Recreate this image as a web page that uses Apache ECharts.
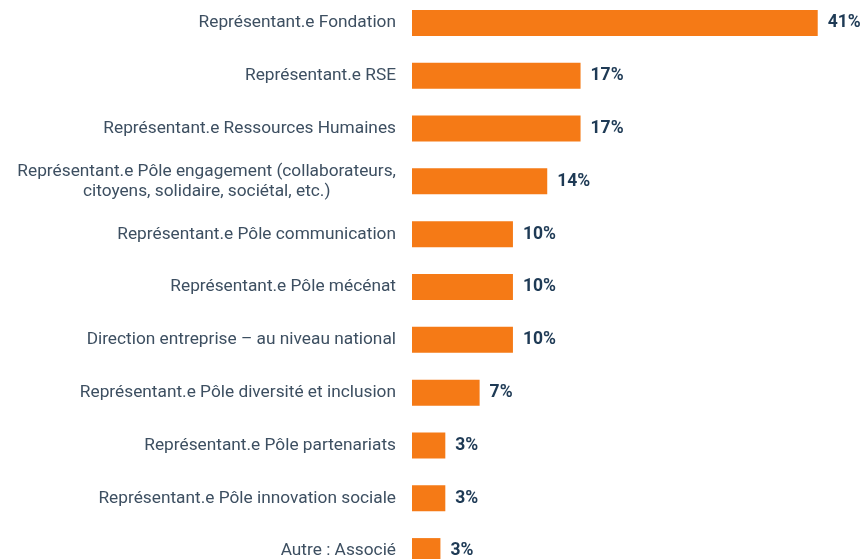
<!DOCTYPE html>
<html>
<head>
<meta charset="utf-8">
<script src="https://cdn.jsdelivr.net/npm/echarts@6/dist/echarts.min.js"></script>
<style>html,body{margin:0;padding:0;background:#fff;}#c{width:862px;height:559px;}</style>
</head>
<body>
<div id="c"></div>
<script>
const categories = [
  "Représentant.e Fondation",
  "Représentant.e RSE",
  "Représentant.e Ressources Humaines",
  "Représentant.e Pôle engagement (collaborateurs,\ncitoyens, solidaire, sociétal, etc.)",
  "Représentant.e Pôle communication",
  "Représentant.e Pôle mécénat",
  "Direction entreprise – au niveau national",
  "Représentant.e Pôle diversité et inclusion",
  "Représentant.e Pôle partenariats",
  "Représentant.e Pôle innovation sociale",
  "Autre : Associé"
];
const values = [41.4, 17.2, 17.2, 13.8, 10.3, 10.3, 10.3, 6.9, 3.4, 3.4, 2.9];

const chart = echarts.init(document.getElementById('c'), null, {renderer: 'canvas'});
chart.setOption({
  animation: false,
  backgroundColor: '#ffffff',
  grid: {left: 412, right: 9, top: -3.5, height: 581, containLabel: false, outerBoundsMode: 'none'},
  xAxis: {
    type: 'value', min: 0, max: 45, show: false
  },
  yAxis: {
    type: 'category',
    inverse: true,
    data: categories,
    axisLine: {show: false},
    axisTick: {show: false},
    splitLine: {show: false},
    axisLabel: {
      margin: 16,
      color: '#3d4f61',
      fontFamily: 'Roboto',
      fontSize: 17.3,
      lineHeight: 20,
      formatter: function (v) {
        return v.split('\n').map(function (l) { return '{c|' + l + '}'; }).join('\n');
      },
      rich: {
        c: {align: 'center', color: '#3d4f61', fontFamily: 'Roboto', fontSize: 17.3, lineHeight: 20}
      }
    }
  },
  series: [{
    type: 'bar',
    data: values,
    barWidth: 26,
    itemStyle: {color: '#f57a16'},
    label: {
      show: true,
      position: 'right',
      distance: 10,
      color: '#1e3a55',
      fontFamily: 'Roboto',
      fontWeight: 'bold',
      fontSize: 17.5,
      formatter: function (p) { return Math.round(p.value) + '%'; }
    }
  }]
});
</script>
</body>
</html>
